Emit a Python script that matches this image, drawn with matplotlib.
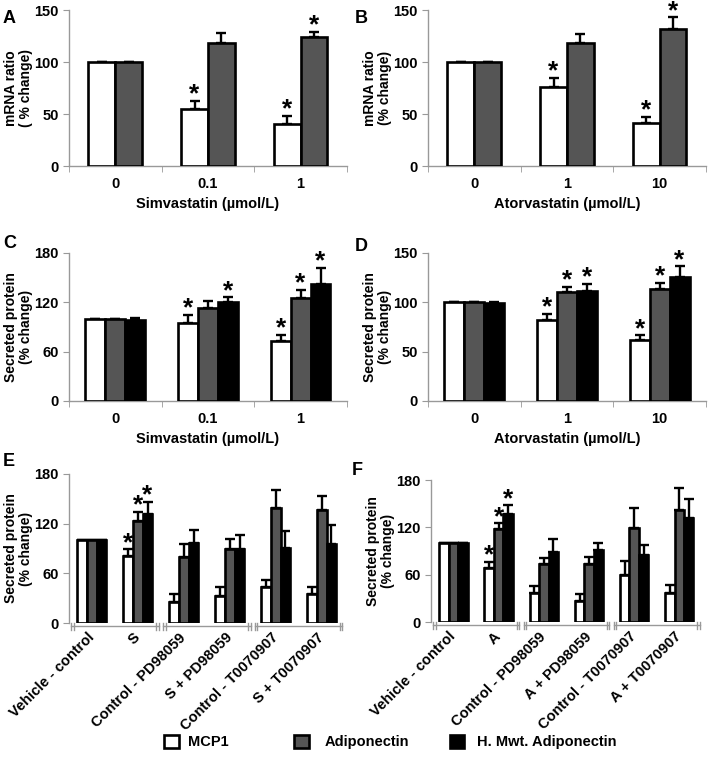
import numpy as np
import matplotlib.pyplot as plt
from matplotlib.patches import Patch
from matplotlib.transforms import blended_transform_factory

plt.rcParams['font.family'] = ['Liberation Sans', 'DejaVu Sans']
plt.rcParams['font.weight'] = 'bold'

# colours of the three series
c_white = 'white'
c_grey = '#555555'
c_black = 'black'
axis_grey = '#999999'

# ---- data ----
dose_sim = ['0', '0.1', '1']
dose_ator = ['0', '1', '10']
series_names = ['MCP1', 'Adiponectin', 'H. Mwt. Adiponectin']

# A: mRNA, simvastatin
a_mcp1 = [100, 55, 40.5]
a_mcp1_err = [0, 8, 7.5]
a_adipo = [100, 118.5, 124]
a_adipo_err = [0, 9.5, 5]
a_stars = [(1, 0), (2, 0), (2, 1)]

# B: mRNA, atorvastatin
b_mcp1 = [100, 76, 41]
b_mcp1_err = [0, 9, 6]
b_adipo = [100, 118, 132]
b_adipo_err = [0, 9, 11]
b_stars = [(1, 0), (2, 0), (2, 1)]

# C: protein, simvastatin
c_mcp1 = [100, 95, 73]
c_mcp1_err = [0, 10, 7]
c_adipo = [100, 113, 125]
c_adipo_err = [0, 8, 10]
c_hmw = [99, 120, 142]
c_hmw_err = [2, 6, 20]
c_stars = [(1, 0), (1, 2), (2, 0), (2, 1), (2, 2)]

# D: protein, atorvastatin
d_mcp1 = [100, 82, 61.5]
d_mcp1_err = [0, 6, 5]
d_adipo = [100, 110, 113]
d_adipo_err = [0, 6, 6.5]
d_hmw = [99, 111.5, 125.5]
d_hmw_err = [1.5, 7, 11]
d_stars = [(1, 0), (1, 1), (1, 2), (2, 0), (2, 1), (2, 2)]

# E: simvastatin + inhibitors
e_groups = ['Vehicle - control', 'S', 'Control - PD98059', 'S + PD98059',
            'Control - T0070907', 'S + T0070907']
e_mcp1 = [100, 81, 25, 33, 44, 35]
e_mcp1_err = [0, 8, 10, 11, 8, 9]
e_adipo = [100, 123, 80, 89, 139, 136]
e_adipo_err = [0, 11, 15, 12, 21, 17]
e_hmw = [100, 132, 97, 89, 90, 95]
e_hmw_err = [0, 14, 15, 17, 21, 23]
e_stars = [(1, 0), (1, 1), (1, 2)]

# F: atorvastatin + inhibitors
f_groups = ['Vehicle - control', 'A', 'Control - PD98059', 'A + PD98059',
            'Control - T0070907', 'A + T0070907']
f_mcp1 = [100, 68, 37, 27, 59, 37]
f_mcp1_err = [0, 8, 9, 8, 18, 10]
f_adipo = [100, 118, 73, 73, 119, 142]
f_adipo_err = [0, 7, 8, 9, 25, 28]
f_hmw = [100, 137, 89, 91, 85, 132]
f_hmw_err = [0, 11, 16, 9, 12, 24]
f_stars = [(1, 0), (1, 1), (1, 2)]


def bars(ax, series, errs, colors, width, stars):
    n = len(series)
    x = np.arange(len(series[0]))
    offs = (np.arange(n) - (n - 1) / 2) * width
    tops = []
    for vals, err, col, off in zip(series, errs, colors, offs):
        ax.bar(x + off, vals, width, color=col, edgecolor='black', linewidth=1.9,
               zorder=3)
        ax.errorbar(x + off, vals, yerr=[np.zeros(len(err)), err], fmt='none',
                    ecolor='black', elinewidth=1.7, capsize=3.5, capthick=1.7,
                    zorder=2)
        tops.append(np.array(vals) + np.array(err))
    for g, s in stars:
        ax.annotate('*', (g + offs[s], tops[s][g]), xytext=(0, -4),
                    textcoords='offset points', ha='center', va='bottom',
                    fontsize=19, fontweight='bold', annotation_clip=False)


def style(ax, ymax, yticks, ylabel):
    ax.set_ylim(0, ymax)
    ax.set_yticks(yticks)
    for s in ['top', 'right']:
        ax.spines[s].set_visible(False)
    for s in ['left', 'bottom']:
        ax.spines[s].set_color(axis_grey)
        ax.spines[s].set_linewidth(1.0)
    ax.tick_params(axis='y', colors=axis_grey, length=4, labelcolor='black',
                   labelsize=10.5)
    ax.set_ylabel(ylabel, fontsize=10, fontweight='bold', labelpad=1,
                  linespacing=1.05)


def dose_panel(rect, series, errs, colors, width, stars, labels, xlabel,
               ymax, yticks, ylabel):
    ax = fig.add_axes(rect)
    bars(ax, series, errs, colors, width, stars)
    style(ax, ymax, yticks, ylabel)
    ax.set_xlim(-0.5, 2.5)
    ax.set_xticks(range(3))
    ax.set_xticklabels(labels)
    ax.set_xticks([-0.5, 0.5, 1.5, 2.5], minor=True)
    ax.tick_params(axis='x', which='major', length=0, labelsize=10.5, pad=8)
    ax.tick_params(axis='x', which='minor', length=4, color=axis_grey)
    ax.set_xlabel(xlabel, fontsize=10.5, fontweight='bold', labelpad=4)
    return ax


def inhibitor_panel(rect, series, errs, groups, stars):
    ax = fig.add_axes(rect)
    bars(ax, series, errs, [c_white, c_grey, c_black], 0.21, stars)
    style(ax, 180, [0, 60, 120, 180], 'Secreted protein\n(% change)')
    ax.spines['left'].set_bounds(0, 180)
    ax.spines['bottom'].set_visible(False)
    ax.set_xlim(-0.5, 5.5)
    ax.set_xticks(range(6))
    ax.set_xticklabels(groups, rotation=45, ha='right', va='center',
                       rotation_mode='anchor')
    ax.tick_params(axis='x', length=0, labelsize=10.5, pad=9)
    tr = blended_transform_factory(ax.transData, ax.transAxes)
    yb = -0.022
    for i in range(3):
        x0, x1 = 2 * i - 0.45, 2 * i + 1.45
        ax.plot([x0, x1], [yb, yb], color=axis_grey, lw=1.0, transform=tr,
                clip_on=False)
        for xe in [x0, x0 + 0.05, x1 - 0.05, x1]:
            ax.plot([xe, xe], [yb - 0.025, yb + 0.025], color=axis_grey,
                    lw=1.0, transform=tr, clip_on=False)
    return ax


fig = plt.figure(figsize=(7.09, 7.57), dpi=100)

dose_panel([0.0973, 0.7807, 0.392, 0.206], [a_mcp1, a_adipo],
           [a_mcp1_err, a_adipo_err], [c_white, c_grey], 0.29, a_stars,
           dose_sim, 'Simvastatin (µmol/L)', 150, [0, 50, 100, 150],
           'mRNA ratio\n( % change)')
dose_panel([0.6037, 0.7807, 0.392, 0.206], [b_mcp1, b_adipo],
           [b_mcp1_err, b_adipo_err], [c_white, c_grey], 0.29, b_stars,
           dose_ator, 'Atorvastatin (µmol/L)', 150, [0, 50, 100, 150],
           'mRNA ratio\n(% change)')
dose_panel([0.0973, 0.4703, 0.392, 0.1955], [c_mcp1, c_adipo, c_hmw],
           [c_mcp1_err, c_adipo_err, c_hmw_err], [c_white, c_grey, c_black],
           0.215, c_stars, dose_sim, 'Simvastatin (µmol/L)', 180,
           [0, 60, 120, 180], 'Secreted protein\n(% change)')
dose_panel([0.6037, 0.4703, 0.392, 0.1955], [d_mcp1, d_adipo, d_hmw],
           [d_mcp1_err, d_adipo_err, d_hmw_err], [c_white, c_grey, c_black],
           0.215, d_stars, dose_ator, 'Atorvastatin (µmol/L)', 150,
           [0, 50, 100, 150], 'Secreted protein\n(% change)')
inhibitor_panel([0.0973, 0.177, 0.389, 0.197], [e_mcp1, e_adipo, e_hmw],
                [e_mcp1_err, e_adipo_err, e_hmw_err], e_groups, e_stars)
inhibitor_panel([0.6079, 0.1783, 0.382, 0.1876], [f_mcp1, f_adipo, f_hmw],
                [f_mcp1_err, f_adipo_err, f_hmw_err], f_groups, f_stars)

for lbl, x, y in [('A', 0.004, 0.987), ('B', 0.50, 0.987), ('C', 0.004, 0.69),
                  ('D', 0.50, 0.685), ('E', 0.004, 0.402), ('F', 0.496, 0.39)]:
    fig.text(x, y, lbl, fontsize=13, fontweight='bold', va='top')

# legend: one entry per block, spaced as in the original
for name, col, xpos, pad in zip(series_names, [c_white, c_grey, c_black],
                                [0.232, 0.415, 0.634], [0.6, 1.1, 0.9]):
    fig.legend([Patch(facecolor=col, edgecolor='black', linewidth=1.9)],
               [name], loc='center left', bbox_to_anchor=(xpos, 0.02),
               frameon=False, handlelength=1.0, handleheight=1.0,
               handletextpad=pad, borderpad=0, borderaxespad=0,
               prop={'size': 10.5, 'weight': 'bold'})

fig.savefig('out.png', dpi=100)
